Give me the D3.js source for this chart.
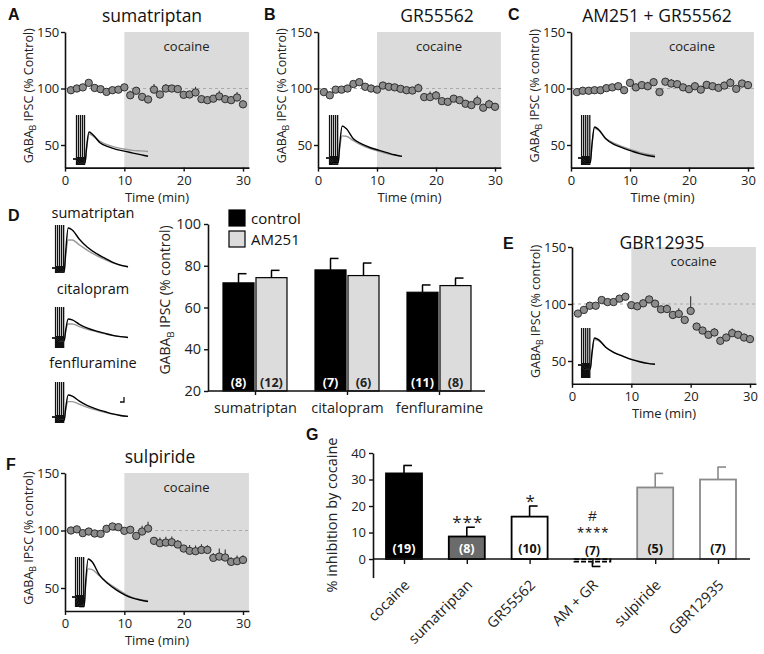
<!DOCTYPE html>
<html><head><meta charset="utf-8">
<script src="https://cdn.jsdelivr.net/npm/d3@7"></script>
<style>
body{margin:0;background:#fff;}
svg{display:block;font-family:'Open Sans',sans-serif;}
</style>
</head><body>
<svg id="c" width="764" height="654"></svg>
<script>
// ---------- DATA ----------
const minutes = [1,2,3,4,5,6,7,8,9,10,11,12,13,14,15,16,17,18,19,20,21,22,23,24,25,26,27,28,29,30];
const timeTicks = [0,10,20,30];
const ipscTicks = [50,100,150];

const sumaVals = [98.5,100,101,105,100.5,99.4,97,98.5,99,101,94,98,92.6,90.3,99,94.7,100,100,99.5,94.4,94.7,96.5,90.6,89.7,91,93,90.6,89.7,92,86];
const sumaErr  = [2,2,2,2,2,2,3,2,2,2,4,3,3,3,5,3,4,3,3,3,3,5,3,3,3,5,3,3,5,3];

const grVals = [96.8,94,99,99,100,104,105.6,101.5,100,99,102.6,101.5,101,99.7,98.5,98.2,100.3,92.4,92.4,93.8,88.8,88.2,91,89.7,86.5,85.3,88.8,83,86,83.8];
const grErr  = [2,2,2,2,2,2,2,2,2,2,2,2,2,2,2,2,4,3,5,4,2,2,2,2,2,2,5,2,4,3];

const amgrVals = [96.8,98,98,98.5,98.5,100.3,101,102,98.5,105,101,103,102,105.6,96.8,106,104.4,103.8,101,99.4,102,99,103.2,102,100.6,102.6,105,99.7,104.4,103];
const amgrErr  = [2,2,2,2,2,2,2,3,2,3,3,3,4,3,2,3,4,3,3,2,3,2,3,2,2,3,4,2,3,3];

const gbrVals = [91.6,94.8,98.5,98.5,103.5,101.7,101.7,104.7,106.4,99,98,100.6,104,100.3,95.3,95.6,90.4,91.3,86,93.9,80.2,76.7,73,75,67.7,70.6,74.4,73,70.6,69.2];
const gbrErr  = [2,2,2,2,2,2,2,2,2,2,2,2,3,2,3,4,3,5,2,13,2,2,2,4,2,3,4,2,3,2];

const sulpVals = [100,101,97.7,99.1,97.4,97.1,101.5,103.5,102.9,99.7,100.6,95.3,99.1,101.7,91,89,89.5,89.8,87.8,84.3,82.3,82,83.1,83.1,76.2,77.3,76.5,72.7,73.3,74.4];
const sulpErr  = [2,2,2,2,2,2,2,2,2,2,2,3,5,6,3,5,5,5,4,3,5,5,5,4,4,7,7,4,5,4];

// inset traces (percent of control peak), sampled at traceTimes (ms)
const traceTimes = [0,60,150,240,270,320,400,540,700,880,1050,1200,1350,1500];
const stimTimes = [70,110,150,190,230];
const traceA_black = [0,0,-15,-15,40,100,90,60,46,35,28,22,16,10];
const traceA_gray  = [0,0,-15,-15,35,92,85,65,52,42,36,32,30,28];
const traceB_black = [0,0,-15,-15,40,100,92,60,44,32,24,17,10,5];
const traceB_gray  = [0,0,-15,-15,30,69,68,54,40,29,21,14,9,5];
const traceC_black = [0,0,-15,-15,40,100,92,62,44,32,22,14,8,4];
const traceC_gray  = [0,0,-15,-15,38,96,90,64,48,36,26,18,12,9];
const traceE_black = [0,0,-15,-15,40,100,94,66,46,32,20,12,6,3];
const traceE_gray  = [0,0,-15,-15,38,94,90,66,47,33,21,13,7,4];
const traceF_black = [0,0,-25,-25,40,100,92,58,36,18,5,-3,-8,-12];
const traceF_gray  = [0,0,-25,-25,30,74,72,56,38,22,8,-2,-7,-10];
const traceD1_black = [0,0,-10,-10,40,100,95,72,52,36,24,14,7,3];
const traceD1_gray  = [0,0,-10,-10,30,70,70,58,44,31,21,13,7,3];
const traceD2_black = [0,0,-15,-15,40,100,95,72,52,36,24,14,7,3];
const traceD2_gray  = [0,0,-15,-15,35,74,74,60,46,33,22,13,7,3];
const traceD3_black = [0,0,-15,-15,40,100,95,72,52,36,24,14,7,3];
const traceD3_gray  = [0,0,-15,-15,32,70,70,58,44,31,21,13,7,3];

// panel D bar chart
const dCategories = ["sumatriptan","citalopram","fenfluramine"];
const dGroups = ["control","AM251"];
const dControl = [71.8,78.0,67.3];
const dControlErr = [4.4,5.5,3.5];
const dAM251 = [74.3,75.3,70.5];
const dAM251Err = [3.5,6.0,3.6];
const dControlN = ["(8)","(7)","(11)"];
const dAM251N = ["(12)","(6)","(8)"];
const dTicks = [20,40,60,80,100];

// panel G bar chart
const gCategories = ["cocaine","sumatriptan","GR55562","AM + GR","sulpiride","GBR12935"];
const gValues = [32.3,8.5,16,-1,27,30];
const gErr = [3.0,3.5,4.0,1.8,5.3,4.7];
const gN = ["(19)","(8)","(10)","(7)","(5)","(7)"];
const gSig = ["","***","*","****","",""];
const gSig2 = ["","","","#","",""];
const gTicks = [0,10,20,30,40];

// ---------- DRAW ----------
const svg = d3.select("#c");
svg.append("rect").attr("width",764).attr("height",654).attr("fill","#fff");

function letter(t,x,y){
  svg.append("text").attr("x",x).attr("y",y).text(t)
    .style("font-family","'Liberation Sans',Arial,sans-serif").style("font-weight","bold").style("font-size","16px").attr("fill","#111");
}
function gabaLabel(g,suffix,x,y,size){
  const t = g.append("text").attr("transform",`translate(${x},${y}) rotate(-90)`)
    .attr("text-anchor","middle").style("font-size",size+"px").attr("fill","#222");
  t.append("tspan").text("GABA");
  t.append("tspan").text("B").attr("dy",size*0.25).style("font-size",(size*0.7)+"px");
  t.append("tspan").text(" IPSC (% "+suffix+")").attr("dy",-size*0.25);
}
function styleAxis(a,fs){
  a.select(".domain").attr("stroke","#111").attr("stroke-width",1.6);
  a.selectAll(".tick line").attr("stroke","#111").attr("stroke-width",1.4);
  a.selectAll(".tick text").style("font-family","'Open Sans',sans-serif").style("font-size",fs+"px").attr("fill","#222");
}

function inset(g,cfg,black,gray){
  const tx = d3.scaleLinear().domain([0,1500]).range([cfg.xStart,cfg.xEnd]);
  const ty = d3.scaleLinear().domain([0,100]).range([cfg.baseY,cfg.baseY-cfg.peakPx]);
  const line = d3.line().x((d,i)=>tx(traceTimes[i])).y(d=>ty(d)).curve(d3.curveMonotoneX);
  g.append("rect").attr("x",tx(stimTimes[0])).attr("y",cfg.baseY-2)
    .attr("width",tx(stimTimes[stimTimes.length-1])-tx(stimTimes[0])).attr("height",cfg.stimBottom-cfg.baseY+2).attr("fill","#111");
  g.selectAll(null).data(stimTimes).enter().append("line")
    .attr("x1",d=>tx(d)).attr("x2",d=>tx(d)).attr("y1",cfg.stimTop).attr("y2",cfg.stimBottom)
    .attr("stroke","#111").attr("stroke-width",1.3);
  g.append("path").attr("d",line(gray)).attr("fill","none").attr("stroke","#9a9a9a").attr("stroke-width",1.4);
  g.append("path").attr("d",line(black)).attr("fill","none").attr("stroke","#000").attr("stroke-width",1.4);
}

function timePanel(p){
  const g = svg.append("g");
  const pxMin = (p.x30-p.x0)/30;
  const x = d3.scaleLinear().domain([0,31]).range([p.x0,p.x0+31*pxMin]);
  const pu = (p.y50-p.y150)/100;
  const y = d3.scaleLinear().domain([30,150]).range([p.y50+20*pu,p.y150]);
  g.append("rect").attr("x",x(10)).attr("y",y(150)).attr("width",x(31)-x(10)).attr("height",y(30)-y(150)).attr("fill","#dbdbdb");
  g.append("text").attr("x",(x(10)+x(31))/2).attr("y",y(150)+19).attr("text-anchor","middle")
    .style("font-size","13px").attr("fill","#222").text("cocaine");
  g.append("line").attr("x1",x(0)).attr("x2",x(31)).attr("y1",y(100)).attr("y2",y(100))
    .attr("stroke","#aaa").attr("stroke-width",1).attr("stroke-dasharray","3,3");
  inset(g,p.inset,p.black,p.gray);
  const ax = g.append("g").attr("transform",`translate(0,${y(30)})`)
    .call(d3.axisBottom(x).tickValues(timeTicks).tickSize(4).tickSizeOuter(0));
  styleAxis(ax,13);
  ax.selectAll(".tick text").attr("y",5).attr("dy","0.95em");
  const ay = g.append("g").attr("transform",`translate(${x(0)},0)`)
    .call(d3.axisLeft(y).tickValues(ipscTicks).tickSize(4).tickSizeOuter(0));
  styleAxis(ay,13);
  ay.selectAll(".tick text").attr("dx","0.1em");
  g.append("text").attr("x",(x(0)+x(31))/2).attr("y",y(30)+34).attr("text-anchor","middle")
    .style("font-size","13px").attr("fill","#222").text("Time (min)");
  gabaLabel(g,p.ylab,x(0)-32,(y(30)+y(150))/2-4,12.5);
  g.append("text").attr("x",p.titleX).attr("y",p.titleY).attr("text-anchor","middle")
    .style("font-size","17.5px").attr("fill","#111").text(p.title);
  // error bars (upward)
  g.selectAll(null).data(p.vals).enter().append("line")
    .attr("x1",(d,i)=>x(minutes[i])).attr("x2",(d,i)=>x(minutes[i]))
    .attr("y1",d=>y(d)).attr("y2",(d,i)=>y(d+p.err[i]))
    .attr("stroke","#333").attr("stroke-width",1.1);
  g.selectAll(null).data(p.vals).enter().append("circle")
    .attr("cx",(d,i)=>x(minutes[i])).attr("cy",d=>y(d)).attr("r",3.7)
    .attr("fill","#8c8c8c").attr("stroke","#222").attr("stroke-width",0.9);
  letter(p.letter,p.lx,p.ly);
}

timePanel({x0:65,x30:243,y150:32,y50:145,vals:sumaVals,err:sumaErr,title:"sumatriptan",titleX:152,titleY:22,ylab:"Control",
  letter:"A",lx:8,ly:20,black:traceA_black,gray:traceA_gray,
  inset:{xStart:73,xEnd:148,baseY:159,peakPx:27,stimTop:115,stimBottom:165}});
timePanel({x0:318,x30:495,y150:32,y50:145,vals:grVals,err:grErr,title:"GR55562",titleX:437,titleY:22,ylab:"Control",
  letter:"B",lx:264,ly:20,black:traceB_black,gray:traceB_gray,
  inset:{xStart:326,xEnd:402,baseY:158,peakPx:32,stimTop:115,stimBottom:165}});
timePanel({x0:571,x30:748,y150:32,y50:145,vals:amgrVals,err:amgrErr,title:"AM251 + GR55562",titleX:657,titleY:22,ylab:"control",
  letter:"C",lx:508,ly:20,black:traceC_black,gray:traceC_gray,
  inset:{xStart:578,xEnd:655,baseY:158,peakPx:31,stimTop:115,stimBottom:165}});
timePanel({x0:572,x30:750,y150:247,y50:361,vals:gbrVals,err:gbrErr,title:"GBR12935",titleX:662,titleY:249,ylab:"control",
  letter:"E",lx:503,ly:249,black:traceE_black,gray:traceE_gray,
  inset:{xStart:578,xEnd:655,baseY:365,peakPx:27,stimTop:328,stimBottom:378}});
timePanel({x0:65,x30:243,y150:473,y50:588,vals:sulpVals,err:sulpErr,title:"sulpiride",titleX:160,titleY:463,ylab:"control",
  letter:"F",lx:6,ly:470,black:traceF_black,gray:traceF_gray,
  inset:{xStart:72,xEnd:148,baseY:597,peakPx:38,stimTop:557,stimBottom:607}});

// ---- Panel D traces ----
{
  const g = svg.append("g");
  const dTitles = [["sumatriptan",218],["citalopram",294],["fenfluramine",368]];
  dTitles.forEach(t=>g.append("text").attr("x",93).attr("y",t[1]).attr("text-anchor","middle")
    .style("font-size","14.5px").attr("fill","#111").text(t[0]));
  inset(g,{xStart:52,xEnd:128,baseY:268,peakPx:40,stimTop:225,stimBottom:273},traceD1_black,traceD1_gray);
  inset(g,{xStart:52,xEnd:128,baseY:338,peakPx:19,stimTop:307,stimBottom:348},traceD2_black,traceD2_gray);
  inset(g,{xStart:52,xEnd:128,baseY:417,peakPx:22,stimTop:382,stimBottom:423},traceD3_black,traceD3_gray);
  g.append("path").attr("d","M120,402 L124,402 L124,397").attr("fill","none").attr("stroke","#111").attr("stroke-width",1.3);
  letter("D",8,221);
}

// ---- Panel D bar chart ----
{
  const g = svg.append("g");
  const x = d3.scalePoint().domain(dCategories).range([255,439]);
  const sub = d3.scaleBand().domain(dGroups).range([-32,32]).paddingInner(0.06);
  const y = d3.scaleLinear().domain([20,100]).range([391,224]);
  const series = [
    {key:"control",vals:dControl,err:dControlErr,n:dControlN,fill:"#000",txt:"#fff"},
    {key:"AM251",vals:dAM251,err:dAM251Err,n:dAM251N,fill:"#dcdcdc",txt:"#222"}];
  series.forEach(s=>{
    dCategories.forEach((c,i)=>{
      const bx = x(c)+sub(s.key), bw = sub.bandwidth(), cx = bx+bw/2;
      g.append("line").attr("x1",cx).attr("x2",cx).attr("y1",y(s.vals[i])).attr("y2",y(s.vals[i]+s.err[i])).attr("stroke","#000").attr("stroke-width",1.5);
      g.append("line").attr("x1",cx-0.5).attr("x2",cx+8).attr("y1",y(s.vals[i]+s.err[i])).attr("y2",y(s.vals[i]+s.err[i])).attr("stroke","#000").attr("stroke-width",1.5);
      g.append("rect").attr("x",bx).attr("y",y(s.vals[i])).attr("width",bw).attr("height",y(20)-y(s.vals[i]))
        .attr("fill",s.fill).attr("stroke","#000").attr("stroke-width",1.2);
      g.append("text").attr("x",cx).attr("y",y(20)-4).attr("text-anchor","middle")
        .style("font-size","12.5px").style("font-weight","bold").attr("fill",s.txt).text(s.n[i]);
    });
  });
  const ay = g.append("g").attr("transform","translate(208,0)").call(d3.axisLeft(y).tickValues(dTicks).tickSize(4).tickSizeOuter(0));
  styleAxis(ay,14.5);
  g.append("line").attr("x1",208).attr("x2",485).attr("y1",391).attr("y2",391).attr("stroke","#111").attr("stroke-width",1.6);
  const ax = g.append("g").attr("transform","translate(0,391)").call(d3.axisBottom(x).tickSize(4).tickSizeOuter(0));
  styleAxis(ax,14.5);
  ax.select(".domain").remove();
  ax.selectAll(".tick text").attr("dy","1.05em");
  gabaLabel(g,"control",170,300,14);
  // legend
  series.forEach((s,i)=>{
    g.append("rect").attr("x",229).attr("y",210+i*21).attr("width",16).attr("height",16).attr("fill",s.fill).attr("stroke","#000").attr("stroke-width",1.2);
    g.append("text").attr("x",251).attr("y",224+i*21).style("font-size","15px").attr("fill","#111").text(s.key);
  });
}

// ---- Panel G ----
{
  const g = svg.append("g");
  const x = d3.scalePoint().domain(gCategories).range([404,718]);
  const y = d3.scaleLinear().domain([-7,40]).range([577.6,453]);
  const fills = ["#000","#6b6b6b","#fff","#fff","#dcdcdc","#fff"];
  const strokes = ["#000","#000","#000","#000","#8a8a8a","#8a8a8a"];
  const ntxt = ["#fff","#fff","#111","#111","#111","#111"];
  const bw = 36;
  gCategories.forEach((c,i)=>{
    const v = gValues[i], cx = x(c);
    const tip = v>=0 ? v+gErr[i] : v-gErr[i];
    g.append("line").attr("x1",cx).attr("x2",cx).attr("y1",y(v)).attr("y2",y(tip)).attr("stroke",strokes[i]).attr("stroke-width",1.6);
    g.append("line").attr("x1",cx-0.5).attr("x2",cx+8).attr("y1",y(tip)).attr("y2",y(tip)).attr("stroke",strokes[i]).attr("stroke-width",1.6);
    g.append("rect").attr("x",cx-bw/2).attr("y",y(Math.max(v,0))).attr("width",bw).attr("height",Math.abs(y(v)-y(0)))
      .attr("fill",fills[i]).attr("stroke",strokes[i]).attr("stroke-width",1.8)
      .attr("stroke-dasharray", v<0 ? "5,2" : null);
    g.append("text").attr("x",cx).attr("y",y(0)-(v<0?4:6)).attr("text-anchor","middle")
      .style("font-size",(v<0?"12px":"12.5px")).style("font-weight","bold").attr("fill",ntxt[i]).text(gN[i]);
  });
  // significance
  gCategories.forEach((c,i)=>{
    const v = gValues[i];
    if(gSig[i]){
      if(v<0){
        g.append("text").attr("x",x(c)+1).attr("y",y(0)-20).attr("text-anchor","middle")
          .style("font-family","'Liberation Sans',Arial,sans-serif")
          .style("font-size","17px").attr("fill","#222").style("letter-spacing","1.5px").text(gSig[i]);
      } else {
        g.append("text").attr("x",x(c)+1).attr("y",y(v+gErr[i])+1).attr("text-anchor","middle")
          .style("font-size","17px").attr("fill","#222").style("letter-spacing","1px").text(gSig[i]);
      }
    }
    if(gSig2[i]){
      g.append("text").attr("x",x(c)).attr("y",y(0)-38.5).attr("text-anchor","middle")
        .style("font-family","'Liberation Sans',Arial,sans-serif")
        .style("font-size","15px").attr("fill","#222").text(gSig2[i]);
    }
  });
  const ay = g.append("g").attr("transform","translate(373,0)").call(d3.axisLeft(y).tickValues(gTicks).tickSize(4).tickSizeOuter(0));
  styleAxis(ay,13);
  g.append("line").attr("x1",373).attr("x2",750).attr("y1",y(0)).attr("y2",y(0)).attr("stroke","#111").attr("stroke-width",1.6);
  const ax = g.append("g").attr("transform",`translate(0,${y(0)})`).call(d3.axisBottom(x).tickSize(5).tickSizeOuter(0));
  styleAxis(ax,14.5);
  ax.select(".domain").remove();
  ax.selectAll(".tick text").attr("text-anchor","end").attr("dy",null).attr("y",null)
    .attr("transform","translate(6,27) rotate(-45)");
  g.append("text").attr("transform","translate(337,515) rotate(-90)").attr("text-anchor","middle")
    .style("font-size","14.5px").attr("fill","#222").text("% inhibition by cocaine");
  letter("G",306,440);
}
</script>
</body></html>
